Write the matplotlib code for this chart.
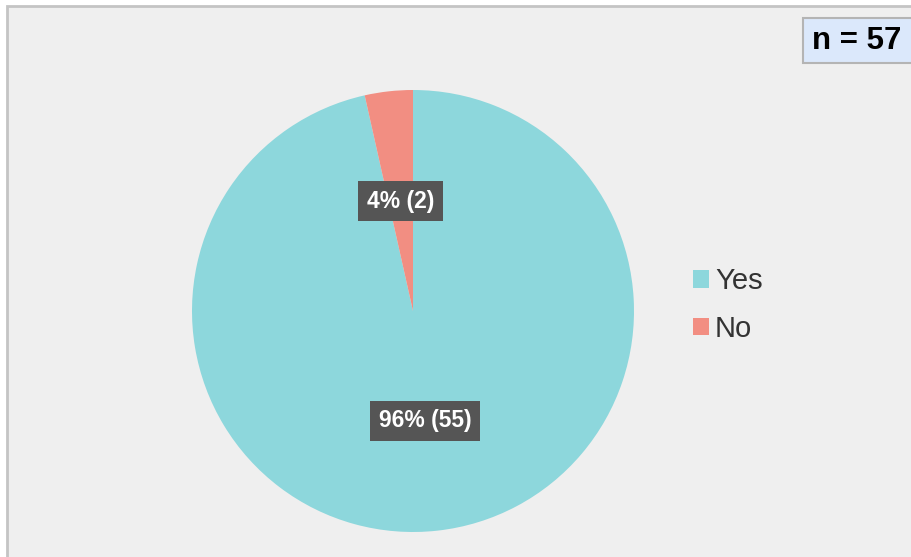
import numpy as np
import matplotlib.pyplot as plt
from matplotlib.patches import Rectangle

plt.rcParams['font.family'] = ['Liberation Sans', 'DejaVu Sans']

# survey answers
answers = ['Yes', 'No']
counts = [55, 2]
colors = ['#8dd7dc', '#f28e82']
total = sum(counts)

W, H = 912, 557
fig = plt.figure(figsize=(W / 100, H / 100), dpi=100)
fig.patch.set_facecolor('white')

# grey chart panel with thin border (runs off the right and bottom edge)
fig.patches.append(Rectangle((7 / W, -0.05), 1.1, (H - 6) / H + 0.05,
                             transform=fig.transFigure, facecolor='#efefef',
                             edgecolor='#c4c4c4', linewidth=2, zorder=-5))

# pie: centre (413, 311), radius 221 px
cx, cy, r = 413, H - 311, 221
ax = fig.add_axes([(cx - r) / W, (cy - r) / H, 2 * r / W, 2 * r / H])
ax.set_zorder(2)
ax.patch.set_visible(False)

start = 90 + 360 * counts[1] / total
wedges, _ = ax.pie(counts, colors=colors, startangle=start, counterclock=True,
                   radius=1, wedgeprops=dict(linewidth=0))
ax.set_xlim(-1, 1)
ax.set_ylim(-1, 1)
ax.axis('off')

for w, c in zip(wedges, counts):
    mid = np.deg2rad((w.theta1 + w.theta2) / 2)
    pct = round(100 * c / total)
    ax.text(0.5 * np.cos(mid), 0.5 * np.sin(mid), f'{pct}% ({c})',
            ha='center', va='center', color='white', fontsize=16.5,
            fontweight='bold',
            bbox=dict(boxstyle='square,pad=0.38', facecolor='#555555',
                      edgecolor='none'))

# legend
leg = fig.legend(wedges, answers, loc='center left',
                 bbox_to_anchor=(693 / W, (H - 305) / H), frameon=False,
                 fontsize=21, handlelength=0.55, handleheight=0.55,
                 handletextpad=0.2, labelspacing=0.68, labelcolor='#333333',
                 borderpad=0, borderaxespad=0)

# sample size box
fig.patches.append(Rectangle((803 / W, (H - 63) / H), 120 / W, 45 / H,
                             transform=fig.transFigure, facecolor='#dbe8fb',
                             edgecolor='#b4b4b4', linewidth=1.5, zorder=3))
fig.text(812 / W, (H - 41) / H, f'n = {total}', ha='left', va='center',
         fontsize=22.5, fontweight='bold', color='black', zorder=4)

fig.savefig('out.png', dpi=100)
